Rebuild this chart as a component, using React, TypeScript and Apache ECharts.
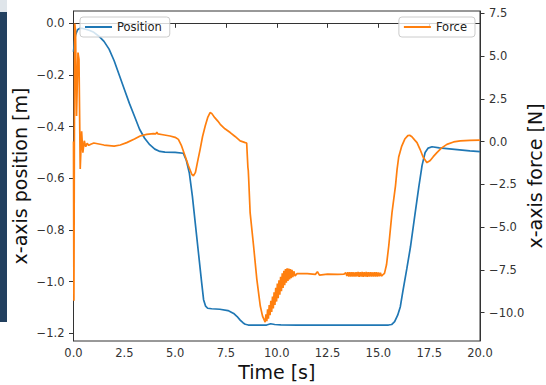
import React, { useEffect, useRef } from "react";
import * as echarts from "echarts";

// Position (left axis, metres)
const posTime = [0, 0.05, 0.1, 0.2, 0.3, 0.45, 0.6, 0.8, 1.0, 1.25, 1.5, 1.75, 2.0, 2.25, 2.5, 2.75, 3.0, 3.25, 3.5, 3.75, 4.0, 4.25, 4.5, 5.0, 5.4, 5.55, 5.7, 5.85, 6.0, 6.15, 6.3, 6.4, 6.5, 6.6, 6.8, 7.2, 7.6, 7.88, 8.05, 8.2, 8.35, 8.45, 8.6, 9.5, 9.7, 9.9, 10.2, 11.0, 13.0, 15.5, 15.65, 15.8, 15.95, 16.08, 16.2, 16.4, 16.58, 16.8, 16.99, 17.15, 17.3, 17.45, 17.64, 18.0, 18.5, 19.0, 19.5, 20.0];
const posValues = [-0.11, -0.07, -0.045, -0.025, -0.02, -0.02, -0.023, -0.028, -0.035, -0.05, -0.07, -0.1, -0.145, -0.2, -0.255, -0.31, -0.36, -0.41, -0.445, -0.47, -0.487, -0.496, -0.499, -0.5, -0.503, -0.53, -0.58, -0.67, -0.78, -0.89, -1.0, -1.07, -1.095, -1.103, -1.105, -1.107, -1.112, -1.123, -1.135, -1.149, -1.16, -1.165, -1.168, -1.168, -1.163, -1.166, -1.167, -1.168, -1.168, -1.168, -1.166, -1.155, -1.13, -1.097, -1.04, -0.95, -0.865, -0.74, -0.633, -0.55, -0.5, -0.483, -0.478, -0.482, -0.486, -0.49, -0.494, -0.497];

// Force (right axis, newtons)
const forceTime = [0, 0.02, 0.06, 0.1, 0.15, 0.22, 0.27, 0.33, 0.4, 0.46, 0.53, 0.6, 0.67, 0.75, 0.85, 1.0, 1.5, 2.0, 2.3, 2.62, 3.0, 3.28, 3.6, 3.93, 4.05, 4.1, 4.15, 4.4, 4.75, 5.0, 5.16, 5.3, 5.49, 5.65, 5.82, 5.9, 6.0, 6.1, 6.23, 6.35, 6.48, 6.6, 6.72, 6.8, 6.95, 7.1, 7.22, 7.45, 7.71, 7.95, 8.2, 8.45, 8.52, 8.55, 8.58, 8.6, 8.62, 8.69, 8.86, 9.02, 9.19, 9.3, 9.43, 9.47, 9.51, 9.55, 9.59, 9.63, 9.67, 9.71, 9.75, 9.79, 9.83, 9.87, 9.91, 9.95, 9.99, 10.03, 10.07, 10.11, 10.15, 10.19, 10.23, 10.27, 10.31, 10.35, 10.39, 10.43, 10.47, 10.51, 10.55, 10.59, 10.63, 10.67, 10.71, 10.75, 10.79, 10.84, 10.9, 11.0, 11.5, 11.9, 12.0, 12.1, 12.5, 13.0, 13.3, 13.4, 13.45, 13.5, 13.55, 13.6, 13.65, 13.7, 13.75, 13.8, 13.85, 13.9, 13.95, 14.0, 14.05, 14.1, 14.15, 14.2, 14.25, 14.3, 14.35, 14.4, 14.45, 14.5, 14.55, 14.6, 14.65, 14.7, 14.75, 14.8, 14.85, 14.9, 14.95, 15.0, 15.05, 15.1, 15.15, 15.2, 15.3, 15.4, 15.51, 15.67, 15.84, 15.92, 16.0, 16.15, 16.3, 16.45, 16.54, 16.65, 16.78, 16.9, 17.05, 17.2, 17.39, 17.55, 17.7, 17.88, 18.1, 18.37, 18.7, 19.03, 19.5, 20.0];
const forceValues = [0, -9.3, 6.9, 6.5, 1.5, 5.2, 4.8, -1.6, 0.6, -0.65, 0.05, -0.3, -0.1, -0.22, -0.15, -0.08, -0.2, -0.26, -0.2, -0.06, 0.15, 0.33, 0.42, 0.47, 0.45, 0.55, 0.45, 0.4, 0.33, 0.25, 0.13, -0.2, -0.84, -1.4, -1.91, -2.0, -1.8, -1.2, -0.45, 0.3, 0.91, 1.4, 1.7, 1.65, 1.4, 1.2, 1.01, 0.75, 0.53, 0.3, 0.04, -0.06, -0.08, -0.8, -1.5, -1.7, -2.2, -4.15, -6.1, -8.05, -9.61, -10.2, -10.55, -10.1, -10.5, -9.8, -10.35, -9.55, -10.15, -9.3, -9.95, -9.05, -9.75, -8.8, -9.55, -8.55, -9.35, -8.3, -9.15, -8.1, -8.95, -7.9, -8.75, -7.7, -8.55, -7.55, -8.4, -7.45, -8.25, -7.4, -8.15, -7.42, -8.05, -7.45, -7.98, -7.5, -7.92, -7.58, -7.85, -7.72, -7.72, -7.76, -7.6, -7.8, -7.74, -7.76, -7.75, -7.66, -7.86, -7.64, -7.88, -7.63, -7.89, -7.63, -7.88, -7.64, -7.89, -7.63, -7.88, -7.62, -7.9, -7.63, -7.89, -7.62, -7.9, -7.63, -7.89, -7.62, -7.9, -7.63, -7.89, -7.63, -7.88, -7.64, -7.89, -7.63, -7.88, -7.64, -7.88, -7.65, -7.87, -7.66, -7.86, -7.8, -7.7, -7.2, -6.1, -4.15, -2.6, -1.62, -0.9, -0.26, 0.15, 0.35, 0.37, 0.28, 0.1, -0.06, -0.45, -0.9, -1.23, -1.1, -0.88, -0.64, -0.38, -0.16, -0.02, 0.04, 0.07, 0.09];

const xTicks = [0, 2.5, 5, 7.5, 10, 12.5, 15, 17.5, 20];
const posTicks = [-1.2, -1.0, -0.8, -0.6, -0.4, -0.2, 0.0];
const forceTicks = [-10, -7.5, -5, -2.5, 0, 2.5, 5, 7.5];

const fmt = (v: number) => (v < 0 ? "\u2212" : "") + Math.abs(v).toFixed(1);

const FONT = "DejaVu Sans";
const AXIS = "#333";

export default function App() {
  const ref = useRef<HTMLDivElement>(null);
  useEffect(() => {
    if (!ref.current) return;
    const chart = echarts.init(ref.current, undefined, { renderer: "svg" });
    const posData = posTime.map((t, i) => [t, posValues[i]]);
    const forceData = forceTime.map((t, i) => [t, forceValues[i]]);
    const legendCommon = {
      top: 17,
      orient: "horizontal" as const,
      icon: "rect",
      itemWidth: 27,
      itemHeight: 2,
      padding: [4, 8, 4, 5],
      backgroundColor: "rgba(255,255,255,0.8)",
      borderColor: "#ccc",
      borderWidth: 1,
      borderRadius: 3,
      textStyle: { fontFamily: FONT, fontSize: 11.5, color: "#222" },
    };
    chart.setOption({
      animation: false,
      backgroundColor: "#fff",
      textStyle: { fontFamily: FONT },
      grid: {
        left: 73.5,
        right: 66,
        top: 11,
        bottom: 44,
        containLabel: false,
        outerBoundsMode: "none",
        show: true,
        borderColor: AXIS,
        borderWidth: 1,
        backgroundColor: "transparent",
      },
      legend: [
        { ...legendCommon, left: 80, data: ["Position"] },
        { ...legendCommon, right: 71, data: ["Force"] },
      ],
      xAxis: {
        type: "value",
        min: 0,
        max: 20,
        interval: 2.5,
        name: "Time [s]",
        nameLocation: "middle",
        nameGap: 21,
        nameMoveOverlap: false,
        nameTextStyle: { fontFamily: FONT, fontSize: 19, color: "#111" },
        axisLine: { lineStyle: { color: AXIS } },
        axisTick: { length: 4.5, lineStyle: { color: AXIS } },
        axisLabel: { fontFamily: FONT, fontSize: 11.5, color: "#333", margin: 6, formatter: (v: number) => fmt(v), customValues: xTicks },
        splitLine: { show: false },
      },
      yAxis: [
        {
          type: "value",
          position: "left",
          min: -1.2298,
          max: 0.0476,
          name: "x-axis position [m]",
          nameLocation: "middle",
          nameRotate: 90,
          nameGap: 44,
          nameMoveOverlap: false,
          nameTextStyle: { fontFamily: FONT, fontSize: 19, color: "#111" },
          axisLine: { show: true, lineStyle: { color: AXIS } },
          axisTick: { show: true, length: 4.5, lineStyle: { color: AXIS }, customValues: posTicks },
          axisLabel: { fontFamily: FONT, fontSize: 11.5, color: "#333", margin: 9, formatter: (v: number) => fmt(v), customValues: posTicks },
          splitLine: { show: false },
        },
        {
          type: "value",
          position: "right",
          min: -11.654,
          max: 7.634,
          name: "x-axis force [N]",
          nameLocation: "middle",
          nameRotate: 90,
          nameGap: 45,
          nameMoveOverlap: false,
          nameTextStyle: { fontFamily: FONT, fontSize: 19, color: "#111" },
          axisLine: { show: true, lineStyle: { color: AXIS } },
          axisTick: { show: true, length: 4.5, lineStyle: { color: AXIS }, customValues: forceTicks },
          axisLabel: { fontFamily: FONT, fontSize: 11.5, color: "#333", margin: 9, formatter: (v: number) => fmt(v), customValues: forceTicks },
          splitLine: { show: false },
        },
      ],
      series: [
        {
          name: "Position",
          type: "line",
          yAxisIndex: 0,
          data: posData,
          showSymbol: false,
          symbol: "none",
          color: "#1f77b4",
          lineStyle: { width: 1.7, color: "#1f77b4" },
        },
        {
          name: "Force",
          type: "line",
          yAxisIndex: 1,
          data: forceData,
          showSymbol: false,
          symbol: "none",
          color: "#ff7f0e",
          lineStyle: { width: 1.7, color: "#ff7f0e" },
        },
      ],
      graphic: [
        { type: "rect", left: 0, top: 0, shape: { width: 7, height: 12 }, style: { fill: "#dfe5ea" }, silent: true },
        { type: "rect", left: 0, top: 12, shape: { width: 7, height: 310 }, style: { fill: "#22405f" }, silent: true },
      ],
    });
    return () => chart.dispose();
  }, []);
  return <div ref={ref} style={{ position: "fixed", left: 0, top: 0, width: 546, height: 385 }} />;
}
